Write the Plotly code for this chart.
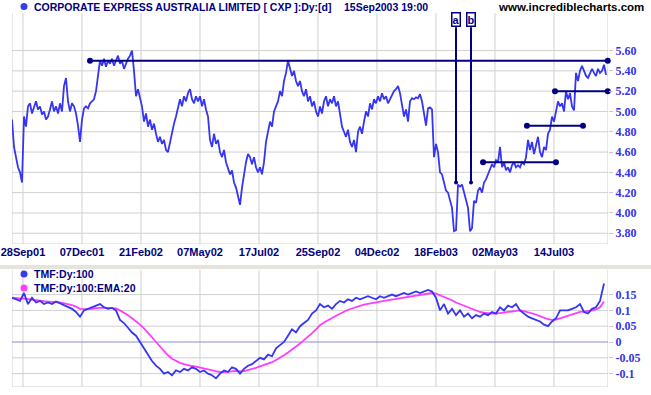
import plotly.graph_objects as go

# ---------------- data ----------------
tick_labels = ["28Sep01", "07Dec01", "21Feb02", "07May02", "17Jul02",
               "25Sep02", "04Dec02", "18Feb03", "02May03", "14Jul03"]
tick_sessions = [0, 50, 100, 150, 200, 250, 300, 350, 400, 450]  # trading sessions from 28Sep01

# closing price, sampled every ~1.7 sessions starting 9 sessions before 28Sep01
price_first_session = -9.3
price_step = 1.695
price = [
    4.92, 4.65, 4.55, 4.45, 4.40, 4.30, 4.95, 4.85, 5.05, 5.08,
    4.98, 5.05, 5.10, 5.02, 5.05, 4.97, 5.00, 4.92, 4.95, 5.02,
    5.10, 5.00, 5.05, 4.98, 5.08, 5.00, 5.25, 5.33, 5.10, 5.00,
    5.08, 5.05, 4.98, 4.86, 4.70, 4.92, 5.03, 5.05, 5.03, 5.08,
    5.10, 5.12, 5.20, 5.35, 5.50, 5.45, 5.52, 5.44, 5.50, 5.47,
    5.52, 5.45, 5.50, 5.55, 5.47, 5.50, 5.42, 5.48, 5.52, 5.55,
    5.60, 5.40, 5.15, 5.22, 5.12, 5.05, 4.90, 4.98, 4.85, 4.92,
    4.82, 4.88, 4.78, 4.70, 4.75, 4.68, 4.72, 4.62, 4.60, 4.70,
    4.78, 4.88, 4.95, 5.05, 5.12, 5.05, 5.15, 5.10, 5.18, 5.22,
    5.12, 5.08, 5.15, 5.10, 5.15, 5.05, 5.12, 5.02, 4.95, 4.72,
    4.65, 4.78, 4.68, 4.72, 4.60, 4.55, 4.62, 4.50, 4.45, 4.38,
    4.42, 4.30, 4.25, 4.15, 4.08, 4.25, 4.40, 4.50, 4.58, 4.55,
    4.48, 4.55, 4.45, 4.40, 4.45, 4.38, 4.50, 4.70, 4.80, 4.90,
    4.85, 5.00, 5.05, 5.10, 5.20, 5.15, 5.30, 5.38, 5.50, 5.42,
    5.35, 5.40, 5.30, 5.25, 5.30, 5.20, 5.15, 5.22, 5.10, 5.15,
    5.05, 5.10, 5.00, 4.95, 5.05, 4.98, 5.10, 5.15, 5.05, 5.12,
    5.08, 5.15, 5.05, 5.10, 4.95, 4.85, 4.80, 4.75, 4.82, 4.70,
    4.65, 4.72, 4.60, 4.80, 4.85, 4.78, 4.90, 5.00, 4.95, 5.08,
    5.02, 5.12, 5.08, 5.15, 5.10, 5.18, 5.12, 5.15, 5.08, 5.12,
    5.15, 5.20, 5.22, 5.25, 5.18, 5.08, 4.95, 5.02, 4.90, 5.10,
    5.13, 5.12, 5.14, 5.13, 5.17, 5.10, 4.98, 4.86, 5.03, 5.04,
    5.02, 4.55, 4.68, 4.60, 4.40, 4.38, 4.30, 4.22, 4.20, 4.12,
    4.05, 3.82, 3.83, 4.28, 4.26, 4.28, 4.20, 4.12, 4.05, 3.82,
    3.85, 4.12, 4.10, 4.22, 4.25, 4.20, 4.30, 4.33, 4.38, 4.42,
    4.48, 4.45, 4.52, 4.50, 4.65, 4.45, 4.50, 4.42, 4.45, 4.40,
    4.47, 4.50, 4.45, 4.47, 4.45, 4.50, 4.48, 4.55, 4.72, 4.62,
    4.70, 4.58, 4.66, 4.75, 4.60, 4.55, 4.65, 4.62, 4.78, 4.82,
    4.95, 4.90, 5.00, 5.10, 5.05, 5.08, 5.00, 5.20, 5.12, 5.18,
    5.05, 5.01, 5.38, 5.30, 5.40, 5.45, 5.40, 5.35, 5.33, 5.38,
    5.42, 5.38, 5.35, 5.42, 5.38, 5.40, 5.46, 5.36,
]

# Twiggs Money Flow (100) and its EMA(20), sampled every ~3.4 sessions
tmf_first_session = -9.3
tmf_step = 3.39
tmf = [
    0.140, 0.135, 0.130, 0.155, 0.120, 0.140, 0.125, 0.130, 0.120, 0.125,
    0.120, 0.128, 0.122, 0.118, 0.110, 0.105, 0.095, 0.080, 0.100, 0.105,
    0.110, 0.115, 0.120, 0.110, 0.105, 0.108, 0.100, 0.070, 0.060, 0.045,
    0.030, 0.020, 0.000, -0.020, -0.040, -0.060, -0.075, -0.085, -0.100, -0.095,
    -0.105, -0.090, -0.095, -0.085, -0.090, -0.080, -0.085, -0.095, -0.090, -0.100,
    -0.105, -0.115, -0.100, -0.090, -0.095, -0.080, -0.085, -0.100, -0.085, -0.075,
    -0.070, -0.060, -0.050, -0.055, -0.040, -0.045, -0.020, -0.010, 0.000, 0.020,
    0.040, 0.030, 0.050, 0.060, 0.070, 0.090, 0.100, 0.120, 0.110, 0.115,
    0.105, 0.120, 0.130, 0.125, 0.135, 0.130, 0.140, 0.135, 0.140, 0.145,
    0.140, 0.135, 0.145, 0.140, 0.145, 0.150, 0.145, 0.150, 0.155, 0.150,
    0.155, 0.160, 0.155, 0.160, 0.165, 0.160, 0.140, 0.100, 0.120, 0.090,
    0.105, 0.085, 0.100, 0.080, 0.090, 0.075, 0.085, 0.080, 0.090, 0.085,
    0.095, 0.090, 0.110, 0.100, 0.115, 0.110, 0.120, 0.100, 0.090, 0.080,
    0.075, 0.070, 0.065, 0.055, 0.050, 0.065, 0.075, 0.100, 0.100, 0.100,
    0.105, 0.110, 0.120, 0.095, 0.090, 0.105, 0.110, 0.130, 0.185,
]
tmf_ema = [
    0.140, 0.140, 0.138, 0.137, 0.135, 0.135, 0.133, 0.131, 0.129, 0.128,
    0.126, 0.126, 0.125, 0.123, 0.120, 0.117, 0.112, 0.105, 0.104, 0.104,
    0.105, 0.107, 0.109, 0.109, 0.108, 0.108, 0.106, 0.100, 0.093, 0.085,
    0.075, 0.066, 0.055, 0.043, 0.030, 0.015, 0.000, -0.015, -0.030, -0.042,
    -0.053, -0.060, -0.066, -0.070, -0.074, -0.076, -0.078, -0.081, -0.083, -0.086,
    -0.089, -0.094, -0.095, -0.095, -0.095, -0.093, -0.091, -0.093, -0.092, -0.089,
    -0.086, -0.082, -0.077, -0.073, -0.068, -0.064, -0.057, -0.050, -0.042, -0.033,
    -0.022, -0.014, -0.005, 0.005, 0.015, 0.028, 0.040, 0.053, 0.062, 0.070,
    0.076, 0.083, 0.090, 0.096, 0.102, 0.106, 0.111, 0.114, 0.118, 0.121,
    0.124, 0.125, 0.128, 0.130, 0.132, 0.135, 0.137, 0.139, 0.141, 0.143,
    0.145, 0.148, 0.150, 0.152, 0.154, 0.155, 0.153, 0.148, 0.144, 0.137,
    0.132, 0.125, 0.120, 0.114, 0.109, 0.103, 0.099, 0.095, 0.093, 0.091,
    0.090, 0.090, 0.092, 0.093, 0.096, 0.098, 0.100, 0.100, 0.098, 0.095,
    0.091, 0.087, 0.082, 0.077, 0.072, 0.070, 0.071, 0.075, 0.079, 0.083,
    0.087, 0.091, 0.095, 0.096, 0.097, 0.100, 0.103, 0.110, 0.128,
]

# drawn horizontal trend lines: (start session, end session, price level)
h_lines = [(56.8, 495.6, 5.50), (450.9, 495.6, 5.20), (427.1, 474.6, 4.86), (389.9, 451.7, 4.50)]
# labelled vertical markers: (label, session, top price, bottom price)
v_marks = [("a", 367.0, 5.83, 4.30), ("b", 379.7, 5.83, 4.30)]

price_ticks = [3.80, 4.00, 4.20, 4.40, 4.60, 4.80, 5.00, 5.20, 5.40, 5.60]
tmf_ticks = [-0.1, -0.05, 0, 0.05, 0.1, 0.15]
tmf_tick_text = ["-0.1", "-0.05", "0", "0.05", "0.1", "0.15"]

# ---------------- figure ----------------
W, H = 651, 395
NAVY = "#000080"
BLUE = "#3535f2"
MAGENTA = "#ff3cff"
GRID = "#d0d0d0"
XRANGE = [-9.3, 495.8]
PRICE_RANGE = [3.694, 5.97]
TMF_RANGE = [-0.1424, 0.2278]

price_x = [price_first_session + i * price_step for i in range(len(price))]
tmf_x = [tmf_first_session + i * tmf_step for i in range(len(tmf))]
ema_x = [tmf_first_session + i * tmf_step for i in range(len(tmf_ema))]

fig = go.Figure()
fig.add_trace(go.Scatter(x=price_x, y=price, mode="lines",
                         line=dict(color=BLUE, width=1.8), xaxis="x", yaxis="y"))
for s0, s1, lvl in h_lines:
    fig.add_trace(go.Scatter(x=[s0, s1], y=[lvl, lvl], mode="lines+markers",
                             line=dict(color=NAVY, width=2),
                             marker=dict(color=NAVY, size=6),
                             cliponaxis=False, xaxis="x", yaxis="y"))
for lab, s, top, bot in v_marks:
    fig.add_trace(go.Scatter(x=[s, s], y=[top, bot], mode="lines",
                             line=dict(color=NAVY, width=2),
                             cliponaxis=False, xaxis="x", yaxis="y"))
    fig.add_trace(go.Scatter(x=[s], y=[bot], mode="markers",
                             marker=dict(color=NAVY, size=4),
                             xaxis="x", yaxis="y"))

fig.add_trace(go.Scatter(x=ema_x, y=tmf_ema, mode="lines",
                         line=dict(color=MAGENTA, width=1.8), xaxis="x2", yaxis="y2"))
fig.add_trace(go.Scatter(x=tmf_x, y=tmf, mode="lines",
                         line=dict(color=BLUE, width=1.8), xaxis="x2", yaxis="y2"))

xdom = [12 / W, 608 / W]
label_font = dict(family="Liberation Sans, Arial", size=11, color=NAVY, weight="bold")
ytick_font = dict(family="Liberation Serif, Times New Roman", size=12, color="#3333ee", weight="bold")

fig.update_layout(
    width=W, height=H, autosize=False,
    margin=dict(l=0, r=0, t=0, b=0, pad=0, autoexpand=False),
    paper_bgcolor="white", plot_bgcolor="white",
    showlegend=False, hovermode=False,
    xaxis=dict(domain=xdom, range=XRANGE, tickvals=tick_sessions, ticktext=tick_labels,
               tickfont=label_font, showgrid=False, zeroline=False, showline=False,
               ticks="", anchor="y"),
    yaxis=dict(domain=[(H - 244) / H, (H - 13) / H], range=PRICE_RANGE, side="right",
               tickvals=price_ticks, ticktext=[f"{v:.2f}" for v in price_ticks],
               tickfont=ytick_font, ticks="outside", ticklen=4, tickcolor="#c8c8c8",
               showgrid=False, zeroline=False, showline=False, anchor="x"),
    xaxis2=dict(domain=xdom, range=XRANGE, tickvals=tick_sessions, showticklabels=False,
                showgrid=False, zeroline=False, showline=False, ticks="", anchor="y2"),
    yaxis2=dict(domain=[(H - 387) / H, (H - 270) / H], range=TMF_RANGE, side="right",
                tickvals=tmf_ticks, ticktext=tmf_tick_text,
                tickfont=ytick_font, ticks="outside", ticklen=4, tickcolor="#c8c8c8",
                showgrid=False, zeroline=False, showline=False, anchor="x2"),
)

def px_x(v):
    return v / W

def px_y(v):
    return (H - v) / H

grid_line = dict(color=GRID, width=1)
shapes = []
# grid and frame of both panels, drawn beneath the data
for xa, ya, yr, ticks in (("x", "y", PRICE_RANGE, price_ticks), ("x2", "y2", TMF_RANGE, tmf_ticks)):
    for s in tick_sessions + [XRANGE[0], XRANGE[1]]:
        shapes.append(dict(type="line", xref=xa, yref=ya, x0=s, x1=s, y0=yr[0], y1=yr[1],
                           line=grid_line, layer="below"))
    for t in ticks + [yr[0]]:
        shapes.append(dict(type="line", xref=xa, yref=ya, x0=XRANGE[0], x1=XRANGE[1], y0=t, y1=t,
                           line=(dict(color="#8c8cd4", width=1) if (ya == "y2" and t == 0) else grid_line),
                           layer="below"))
shapes += [
    dict(type="rect", xref="paper", yref="paper", x0=0, x1=1,
         y0=px_y(269), y1=px_y(265), fillcolor="#e4e4dc", line=dict(width=0)),
    dict(type="circle", xref="paper", yref="paper", x0=px_x(20.5), x1=px_x(27.5),
         y0=px_y(10), y1=px_y(3), fillcolor="#3a3af0", line=dict(width=0)),
    dict(type="circle", xref="paper", yref="paper", x0=px_x(20.5), x1=px_x(27.5),
         y0=px_y(277.5), y1=px_y(270.5), fillcolor="#3a3af0", line=dict(width=0)),
    dict(type="circle", xref="paper", yref="paper", x0=px_x(20.5), x1=px_x(27.5),
         y0=px_y(291.5), y1=px_y(284.5), fillcolor="#ff3cff", line=dict(width=0)),
]
fig.update_layout(shapes=shapes)

title_font = dict(family="Liberation Sans, Arial", size=10.5, color=NAVY, weight="bold")
annotations = [
    dict(text="CORPORATE EXPRESS AUSTRALIA LIMITED [ CXP ]:Dy:[d]", xref="paper", yref="paper",
         x=px_x(32), y=px_y(7), xanchor="left", yanchor="middle", showarrow=False, font=title_font),
    dict(text="15Sep2003 19:00", xref="paper", yref="paper",
         x=px_x(342), y=px_y(7), xanchor="left", yanchor="middle", showarrow=False, font=title_font),
    dict(text="www.incrediblecharts.com", xref="paper", yref="paper",
         x=px_x(646), y=px_y(7), xanchor="right", yanchor="middle", showarrow=False,
         font=dict(family="Liberation Sans, Arial", size=11.5, color="black", weight="bold")),
    dict(text="TMF:Dy:100", xref="paper", yref="paper",
         x=px_x(32), y=px_y(274), xanchor="left", yanchor="middle", showarrow=False, font=title_font),
    dict(text="TMF:Dy:100:EMA:20", xref="paper", yref="paper",
         x=px_x(32), y=px_y(288), xanchor="left", yanchor="middle", showarrow=False, font=title_font),
]
for lab, s, top, bot in v_marks:
    annotations.append(dict(text=lab, x=s, y=top, xref="x", yref="y", yanchor="bottom",
                            showarrow=False, bgcolor="white", bordercolor=NAVY, borderwidth=1.5,
                            borderpad=0, font=dict(family="Liberation Sans, Arial", size=11,
                                                   color=NAVY, weight="bold")))
fig.update_layout(annotations=annotations)

fig.write_html("out.html", config={"displayModeBar": False, "staticPlot": True},
               post_script="document.body.style.margin='0px';document.body.style.overflow='hidden';")
